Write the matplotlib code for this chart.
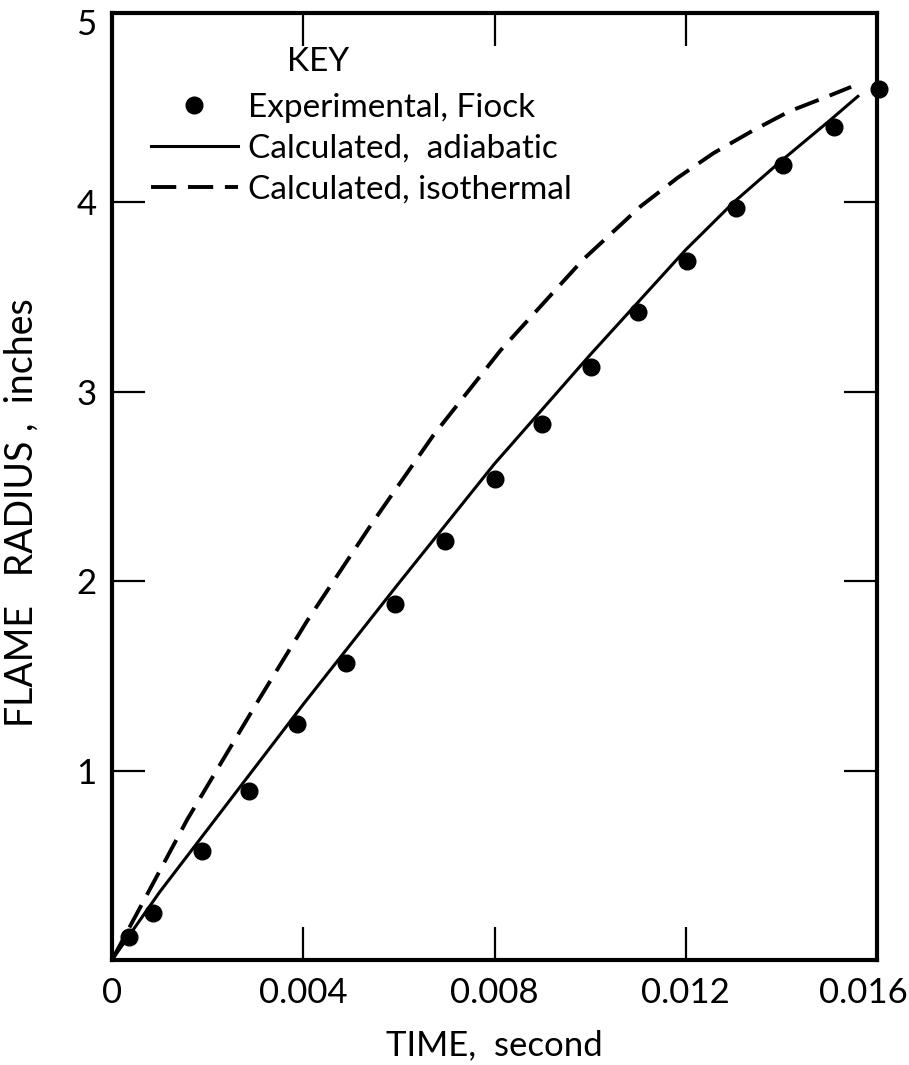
import matplotlib
matplotlib.use("Agg")
import matplotlib.pyplot as plt
from matplotlib.transforms import ScaledTranslation

plt.rcParams['font.family'] = ['Lato', 'DejaVu Sans']

# experimental points (Fiock)
time_exp = [0.000356, 0.000859, 0.001885, 0.002869, 0.003874, 0.0049, 0.005927, 0.006974,
            0.0080, 0.008984, 0.01001, 0.0110, 0.01202, 0.01305, 0.01403, 0.0151, 0.01604]
radius_exp = [0.12, 0.25, 0.575, 0.89, 1.245, 1.57, 1.88, 2.21,
              2.54, 2.83, 3.13, 3.42, 3.69, 3.97, 4.20, 4.40, 4.60]

# calculated, adiabatic
time_adi = [0, 0.001, 0.002, 0.004, 0.006, 0.008, 0.010, 0.012, 0.013, 0.014, 0.015, 0.0156]
radius_adi = [0, 0.36, 0.69, 1.35, 1.99, 2.62, 3.195, 3.75, 4.0, 4.22, 4.43, 4.56]

# calculated, isothermal
time_iso = [0, 0.00157, 0.00306, 0.00408, 0.00545, 0.00672, 0.00813, 0.00986,
            0.01106, 0.01183, 0.01258, 0.01341, 0.01416, 0.01497, 0.01546]
radius_iso = [0, 0.74, 1.37, 1.79, 2.31, 2.77, 3.22, 3.70,
              3.98, 4.13, 4.26, 4.38, 4.48, 4.56, 4.61]

x_ticks = [0, 0.004, 0.008, 0.012, 0.016]
x_labels = ["0", "0.004", "0.008", "0.012", "0.016"]
y_ticks = [1, 2, 3, 4, 5]
y_labels = ["1", "2", "3", "4", "5"]

W, H = 909, 1065
fig = plt.figure(figsize=(W / 100, H / 100), dpi=100)
ax = fig.add_axes([112 / W, 1 - 960 / H, (877 - 112) / W, (960 - 13) / H])

ax.plot(time_exp, radius_exp, "o", color="black", ms=12, label="Experimental, Fiock",
        clip_on=False, zorder=5)
ax.plot(time_adi, radius_adi, "-", color="black", lw=2.2, label="Calculated,  adiabatic")
ax.plot(time_iso, radius_iso, "--", color="black", lw=2.8, dashes=(6.5, 3),
        label="Calculated, isothermal")

ax.set_xlim(0, 0.016)
ax.set_ylim(0, 5)

ax.set_xticks(x_ticks)
ax.set_xticklabels(x_labels)
ax.set_yticks(y_ticks)
ax.set_yticklabels(y_labels)

ax.tick_params(direction="in", length=24, width=1.6, labelsize=25,
               top=True, right=True, pad=11, color="black")
ax.tick_params(axis="x", pad=12)

# keep the last x label inside the figure, as in the scan
last = ax.get_xticklabels()[-1]
last.set_transform(last.get_transform() + ScaledTranslation(-0.14, 0, fig.dpi_scale_trans))
# top label "5" sits a little below its tick
top = ax.get_yticklabels()[-1]
top.set_transform(top.get_transform() + ScaledTranslation(0, -0.09, fig.dpi_scale_trans))

for s in ax.spines.values():
    s.set_linewidth(3)
    s.set_color("black")

fig.text(22 / W, 1 - 513 / H, "FLAME   RADIUS ,  inches", rotation=90,
         ha="center", va="center", fontsize=27)
fig.text(494 / W, 1 - 1045 / H, "TIME,  second", ha="center", va="center", fontsize=25)

leg = ax.legend(loc="upper left", bbox_to_anchor=(151 / W, 1 - 93 / H),
                bbox_transform=fig.transFigure, frameon=False, fontsize=24,
                handlelength=2.6, handletextpad=0.3, labelspacing=0.33,
                borderpad=0, borderaxespad=0)
fig.text(318 / W, 1 - 62 / H, "KEY", ha="center", va="center", fontsize=24)

fig.savefig("out.png", dpi=100)
